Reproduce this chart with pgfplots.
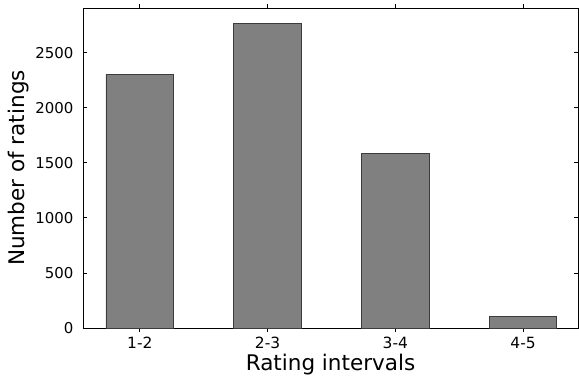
\documentclass[border=0pt]{standalone}
\usepackage{pgfplots}
\pgfplotsset{compat=1.18}
\usepackage{fontspec}
\setmainfont{DejaVu Sans}
\begin{document}
\begin{tikzpicture}
\begin{axis}[
  scale only axis,
  width=495bp, height=320bp,
  xmin=-0.445, xmax=3.43,
  ymin=0, ymax=2906,
  xtick={0,1,2,3},
  xticklabels={1-2,2-3,3-4,4-5},
  ytick={0,500,1000,1500,2000,2500},
  tick align=inside,
  tick pos=both,
  major tick length=4bp,
  tick style={black, line width=0.8pt},
  axis line style={line width=0.9pt},
  /pgf/number format/assume math mode=true,
  /pgf/number format/set thousands separator={},
  xticklabel style={font=\fontsize{15.5}{17}\selectfont, yshift=-1.5bp},
  yticklabel style={font=\fontsize{15}{17}\selectfont, xshift=-6bp},
  xlabel={Rating intervals},
  ylabel={Number of ratings},
  xlabel style={font=\fontsize{21.6}{24}\selectfont, yshift=1bp},
  ylabel style={font=\fontsize{21.6}{24}\selectfont, yshift=0bp},
  ybar, bar width=0.53,
]
\addplot[fill={rgb,255:red,128;green,128;blue,128}, draw={rgb,255:red,60;green,60;blue,60}, line width=0.9pt]
  coordinates {(0,2300) (1,2768) (2,1582) (3,103)};
\end{axis}
\pgfresetboundingbox
\path ([xshift=-83bp,yshift=-51bp]current axis.south west) rectangle ([xshift=1bp,yshift=8bp]current axis.north east);
\end{tikzpicture}
\end{document}
